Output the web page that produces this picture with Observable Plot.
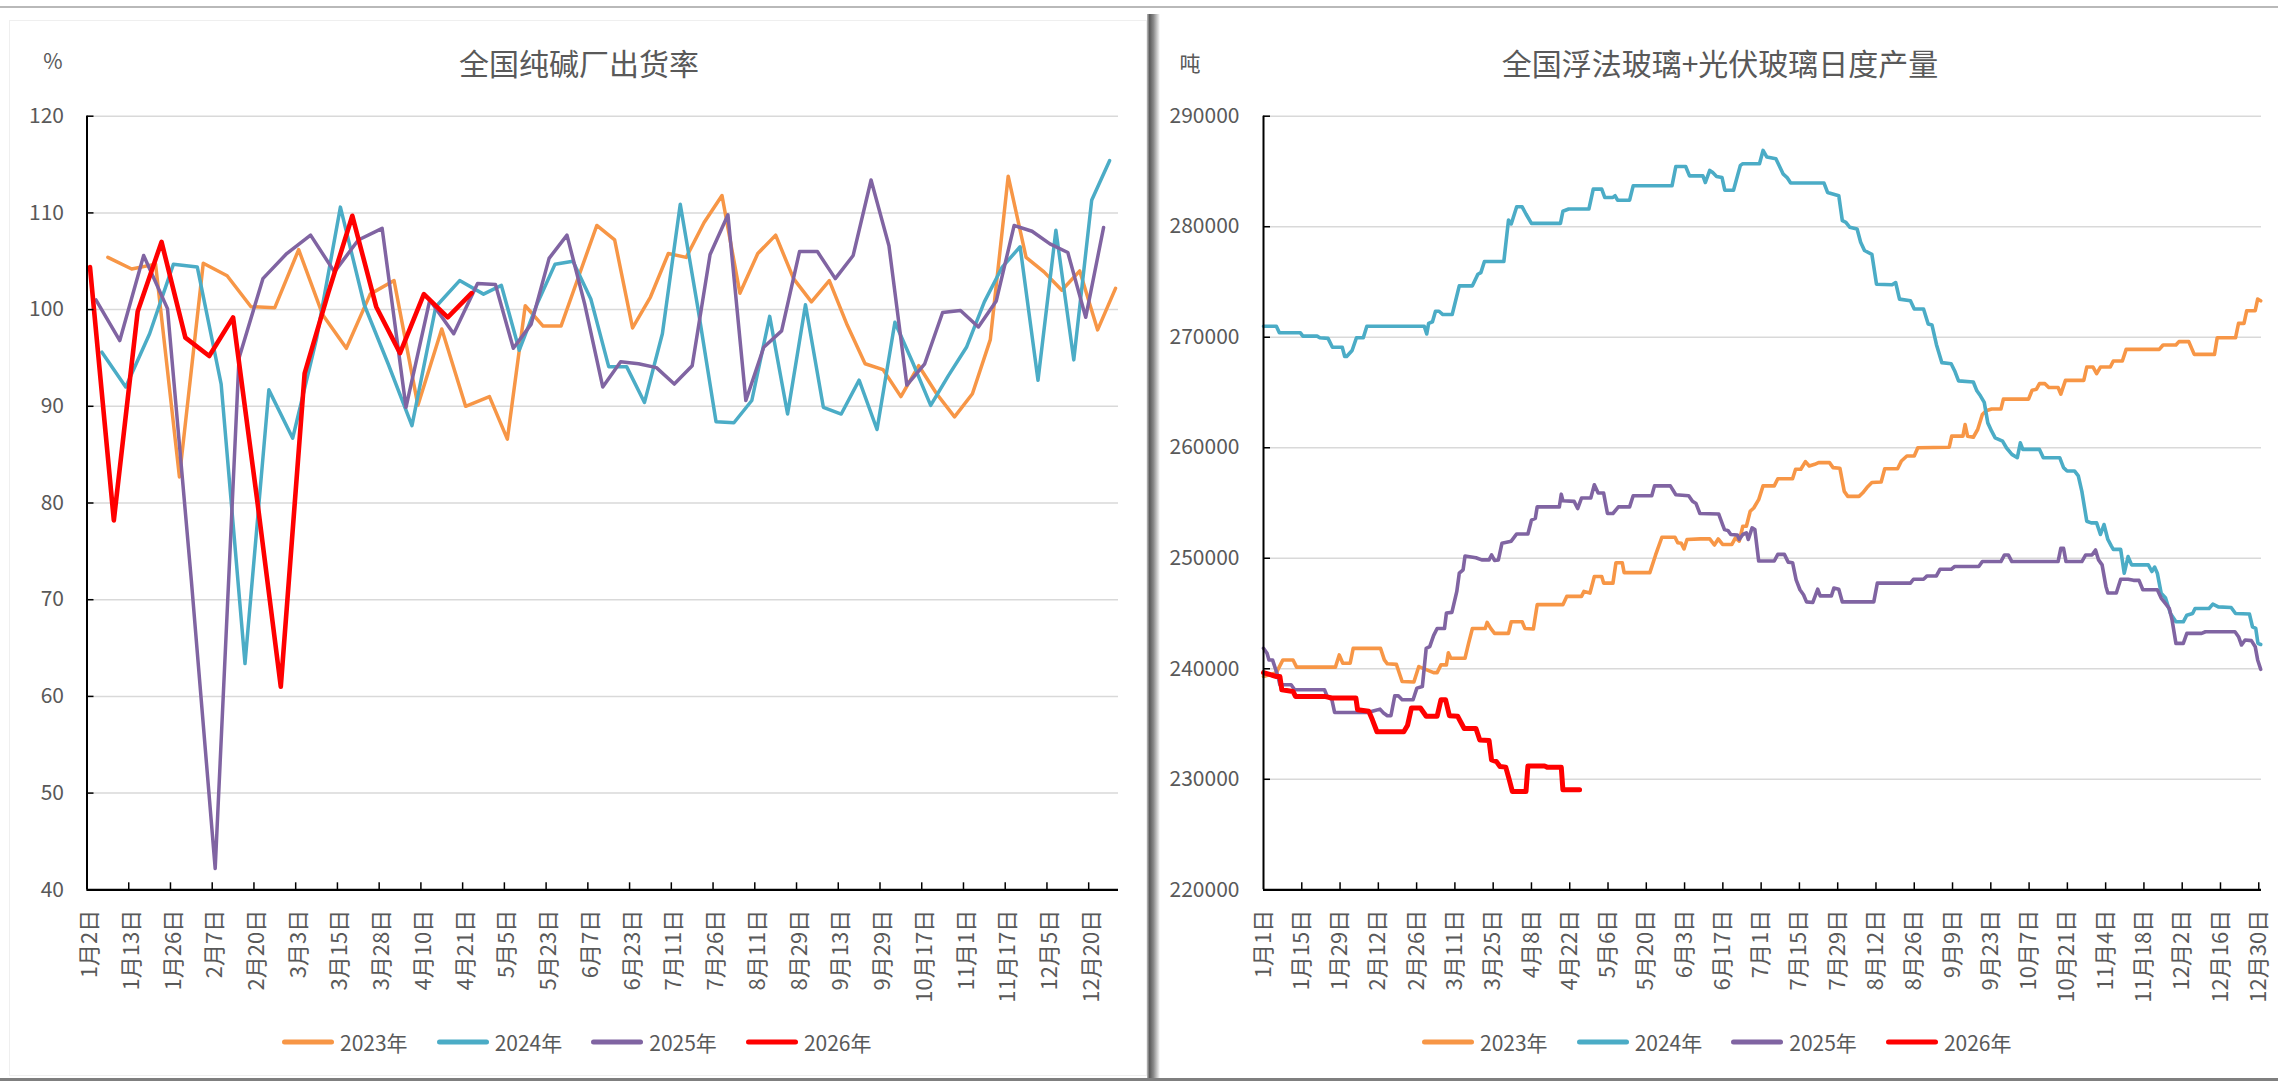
<!DOCTYPE html>
<html><head><meta charset="utf-8">
<script src="https://cdn.jsdelivr.net/npm/d3@7"></script>
<script src="https://cdn.jsdelivr.net/npm/@observablehq/plot@0.6"></script>
<style>
body{margin:0;background:#fff;}
#wrap{position:relative;width:2278px;height:1081px;overflow:hidden;background:#fff;font-family:"Noto Sans CJK SC","Noto Sans",sans-serif;color:#595959;}
.abs{position:absolute;}
.title{font-size:30px;white-space:nowrap;transform:translate(-50%,-50%);line-height:1;}
.unit{font-size:21px;transform:translate(-50%,-50%);line-height:1;}
.legend{display:flex;align-items:center;font-size:21px;white-space:nowrap;transform:translateY(-50%);line-height:1;}
.legend .item{display:flex;align-items:center;margin-right:29px;}
.legend .sw{width:52px;height:5px;border-radius:3px;margin-right:6px;}
svg{position:absolute;top:0;}
</style></head>
<body><div id="wrap"></div>
<script>
// ---------------- LEFT: 全国纯碱厂出货率 (weekly, %) ----------------
const rateLabels = ["1月2日","1月13日","1月26日","2月7日","2月20日","3月3日","3月15日","3月28日","4月10日","4月21日","5月5日","5月23日","6月7日","6月23日","7月11日","7月26日","8月11日","8月29日","9月13日","9月29日","10月17日","11月1日","11月17日","12月5日","12月20日"];
const rateYTicks = [40,50,60,70,80,90,100,110,120];
const rate2023 = [105.4,104.2,104.7,82.7,104.8,103.5,100.3,100.2,106.2,99.5,96.0,101.6,103.0,90.1,98.0,90.0,91.0,86.6,100.4,98.3,98.3,103.5,108.7,107.2,98.1,101.3,105.8,105.4,109.0,111.8,101.7,105.8,107.7,103.2,100.8,103.0,98.4,94.4,93.8,91.0,94.2,91.3,88.9,91.3,96.9,113.8,105.4,103.9,102.0,104.0,97.9,102.2];
const rate2024 = [95.6,92.0,97.5,104.7,104.4,92.3,63.4,91.7,86.7,97.0,110.6,100.5,94.4,88.0,100.3,103.0,101.6,102.5,95.8,100.6,104.7,105.0,101.1,94.1,94.1,90.4,97.5,110.9,100.0,88.4,88.3,90.6,99.3,89.2,100.5,89.9,89.2,92.7,87.6,98.7,94.5,90.1,93.2,96.1,100.8,104.4,106.5,92.7,108.2,94.8,111.3,115.4];
const rate2025 = [101.0,96.8,105.6,100.1,72.0,42.2,95.0,103.2,105.8,107.7,103.9,107.2,108.4,89.9,101.0,97.5,102.7,102.6,96.0,98.5,105.3,107.7,100.5,92.0,94.6,94.4,94.0,92.3,94.2,105.7,109.8,90.6,96.1,97.8,106.0,106.0,103.2,105.6,113.4,106.6,92.2,94.4,99.7,99.9,98.2,100.9,108.7,108.1,106.8,105.9,99.2,108.5];
const rate2026 = [104.4,78.2,99.8,107.0,97.1,95.2,99.2,80.5,61.0,93.4,101.8,109.7,100.3,95.5,101.6,99.2,101.7];
const rateFirstDay = {2023: 6, 2024: 5, 2025: 3, 2026: 2}; // first weekly report date in January
const years = [2023, 2024, 2025, 2026];
const colors = {2023: "#F79646", 2024: "#4BACC6", 2025: "#8064A2", 2026: "#FF0000"};
const rateSeries = {2023: rate2023, 2024: rate2024, 2025: rate2025, 2026: rate2026};

// category axis = union of report month-days of all years, in calendar order
const rateRows = [];
for (const y of years) rateSeries[y].forEach((v, w) => {
  const dt = new Date(y, 0, rateFirstDay[y] + 7 * w);
  rateRows.push({year: y, key: (dt.getMonth() + 1) * 100 + dt.getDate(), v});
});
const rateKeys = Array.from(new Set(rateRows.map(r => r.key))).sort((a, b) => a - b);
const rateKeyIndex = new Map(rateKeys.map((k, i) => [k, i]));
rateRows.forEach(r => r.i = rateKeyIndex.get(r.key));
const nCat = rateKeys.length;
const rateLabelIdx = rateLabels.map((_, k) => 7 * k);
const rateTickIdx = d3.range(1, rateLabels.length).map(k => 7 * k - 0.5);

// ---------------- RIGHT: 全国浮法玻璃+光伏玻璃日度产量 (daily, 吨) ----------------
const glassLabels = ["1月1日","1月15日","1月29日","2月12日","2月26日","3月11日","3月25日","4月8日","4月22日","5月6日","5月20日","6月3日","6月17日","7月1日","7月15日","7月29日","8月12日","8月26日","9月9日","9月23日","10月7日","10月21日","11月4日","11月18日","12月2日","12月16日","12月30日"];
const glassYTicks = [220000,230000,240000,250000,260000,270000,280000,290000];
// [day index from 1月1日, tons]
const glass2023 = [[0,239300],[4.7,239650],[7.1,240800],[10.8,240800],[12.1,240150],[26.3,240150],[27.7,241250],[29,240500],[31.7,240500],[32.8,241850],[42.8,241850],[44.2,240800],[45.3,240450],[48.6,240400],[50.7,238850],[55,238800],[56.8,240200],[62.2,239650],[63.5,239650],[64.9,240350],[66.9,240350],[67.6,241450],[68.5,240950],[73.7,240950],[75,242300],[76.4,243650],[81.1,243650],[81.8,244200],[83.1,243650],[84.5,243200],[89.6,243200],[90.6,244250],[94.6,244250],[95.6,243650],[98.7,243600],[100.1,245800],[109.5,245800],[110.9,246550],[116.3,246550],[117.2,247000],[119.4,246850],[121,248350],[123.7,248350],[124.4,247750],[127.8,247750],[128.9,249600],[131.2,249600],[131.9,248700],[141.3,248700],[143.4,250300],[145.7,251900],[150.5,251900],[151.5,251400],[152.8,251350],[153.8,250850],[154.9,251700],[159.8,251750],[163.2,251750],[164.9,251200],[166.3,251750],[167.9,251250],[171.3,251250],[172.6,251850],[174,251550],[175.3,252900],[176.6,252900],[178,254250],[179.3,254550],[181.1,255300],[182.7,256550],[186.8,256550],[188.1,257200],[193.5,257200],[194.6,258050],[196.5,258050],[198.2,258750],[199.6,258350],[201.6,258500],[203,258650],[207,258650],[208.3,258200],[210.8,258150],[212.4,256050],[213.7,255600],[217.8,255600],[219.1,255900],[220.7,256400],[222.5,256850],[225.9,256900],[227.2,258100],[231.9,258100],[233.3,258800],[235.3,259250],[238,259250],[239.3,260000],[250.8,260050],[251.7,261050],[255.8,261050],[256.6,262100],[257.5,261050],[259.6,260950],[261.2,261650],[262.9,263000],[264.3,263350],[266.3,263500],[269.7,263500],[270.6,264400],[279.8,264400],[281.1,265200],[282.7,265300],[283.8,265800],[285.8,265800],[287.2,265450],[290.6,265450],[291.6,264850],[293.3,266100],[300,266100],[301.1,267300],[303.4,267300],[304.7,266700],[306.1,267300],[309.7,267300],[310.8,267850],[314.1,267850],[315.5,268900],[327.6,268900],[329,269300],[333.7,269300],[334.8,269600],[338.4,269600],[340.4,268450],[347.8,268450],[348.8,269950],[355.5,269950],[356.6,271250],[358.6,271250],[359.6,272400],[362.7,272400],[363.6,273450],[364.7,273300]];
const glass2024 = [[0,271000],[4.7,271000],[5.8,270400],[13.5,270400],[14.4,270100],[19.6,270100],[20.6,269950],[23.6,269900],[25.2,269100],[28.8,269100],[29.7,268250],[30.4,268250],[32.4,268800],[34,269950],[36.5,269950],[37.8,271000],[58.8,271000],[59.7,270300],[60.4,271250],[61.8,271400],[62.9,272350],[64.2,272350],[65.6,272050],[69,272050],[71.6,274650],[76.4,274650],[78.4,275700],[79.5,275850],[80.8,276850],[87.9,276850],[89.6,280600],[90.6,280250],[92.6,281800],[94.6,281800],[96,281150],[98,280300],[108.6,280300],[109.5,281400],[111.6,281600],[119,281600],[120.6,283400],[123.7,283400],[124.8,282650],[127.8,282650],[128.6,282800],[129.5,282400],[133.9,282400],[135.2,283700],[149.4,283700],[150.8,285450],[154.4,285450],[155.8,284600],[160.7,284600],[161.6,284000],[163.2,285100],[164.3,284900],[165.7,284550],[167.7,284450],[168.7,283300],[171.9,283300],[174.4,285550],[175.3,285700],[181.4,285700],[182.7,286900],[184.1,286300],[187.4,286150],[190.1,284750],[191.5,284450],[192.8,283950],[205,283950],[206.3,283100],[210.4,282800],[211.7,280550],[213,280400],[214.4,279950],[217.1,279800],[218.4,278600],[219.8,277850],[222.5,277500],[224.2,274800],[229.9,274750],[231.2,274950],[232.6,273450],[236.6,273300],[238,272550],[241.4,272550],[243.1,271200],[244.5,271100],[246.1,269350],[248.1,267700],[251.5,267600],[252.8,266950],[254.2,266050],[259.6,265950],[260.9,265150],[262.2,264700],[263.6,264100],[264.9,262250],[266.3,261500],[267.6,260900],[270.3,260600],[271.7,260000],[273.7,259400],[275.7,259100],[276.8,260450],[277.7,259850],[283.8,259850],[285.2,259100],[291.2,259100],[292.6,258200],[293.9,257900],[296.6,257900],[298,257450],[299.3,256050],[301.1,253350],[302.7,253200],[304.7,253200],[306.1,252150],[307.4,253050],[308.8,251700],[310.1,251100],[310.8,250800],[313.5,250800],[314.8,248650],[316.2,250150],[317.5,249400],[323.6,249400],[324.9,248800],[325.9,249200],[326.9,248650],[328.3,246850],[329.9,246400],[331.7,245000],[333.7,244250],[336.4,244250],[337.7,244850],[339.8,245000],[340.7,245450],[345.8,245450],[347.2,245850],[349.2,245600],[353.9,245550],[355.5,245000],[360.6,244950],[361.7,243800],[362.9,243650],[363.7,242300],[364.7,242200]];
const glass2025 = [[0,241850],[1.3,241400],[2,240800],[3.3,240800],[5.3,239300],[6,238550],[10.1,238550],[11.4,238100],[22.3,238100],[23.3,237500],[25,237200],[26,236050],[38.5,236050],[39.8,236150],[42.6,236350],[43.9,236000],[45.3,235750],[46.6,235750],[48,237550],[49.3,237550],[50.7,237200],[54.7,237200],[56.1,238250],[58.1,238400],[59.5,241850],[60.8,242000],[62.2,243000],[63.5,243650],[66.2,243650],[66.9,245050],[68.9,245100],[70.7,247000],[71.6,248650],[73,248950],[73.7,250200],[77.7,250050],[79.8,249850],[82.5,249850],[83.4,250300],[84.5,249800],[85.9,249850],[87.2,251350],[90.6,251550],[92.6,252200],[96.7,252200],[98,253450],[99.4,253600],[100.1,254650],[108.2,254650],[108.9,255800],[109.5,255200],[113.6,255150],[114.9,254500],[116.3,255450],[119.7,255450],[121,256650],[122.4,255900],[124.4,255900],[125.8,254050],[127.8,254050],[129.8,254650],[133.9,254650],[135.2,255650],[142,255650],[143,256550],[148.8,256550],[150.8,255750],[155.5,255650],[156.9,255150],[158.2,254950],[159.6,254050],[166.5,254000],[167.9,253050],[168.6,252600],[169.9,252500],[170.9,252150],[173.3,252100],[174,251700],[175.3,252150],[176.6,252300],[177.3,251700],[178.7,252750],[179.7,252600],[181.1,249750],[186.8,249750],[188.1,250350],[190.5,250350],[191.9,249650],[193.5,249600],[194.8,248050],[196.2,247150],[197.5,246700],[198.6,246050],[200.9,246000],[202.7,247200],[203.6,246600],[207.7,246600],[208.6,247300],[210.4,247200],[211.7,246050],[223.2,246050],[224.5,247750],[236.6,247750],[237.7,248100],[241.4,248100],[242.7,248400],[246.1,248400],[247.4,249000],[251.5,249000],[252.8,249250],[261.6,249250],[262.9,249700],[269.7,249700],[271,250300],[272.4,250300],[273.7,249700],[290.6,249700],[291.6,250900],[292.6,250900],[293.5,249700],[299.3,249700],[300.7,250300],[303,250300],[304.3,250750],[305.4,249850],[306.7,249400],[308.1,247450],[308.8,246850],[311.9,246850],[313.5,248100],[316.2,248100],[318.2,248000],[320.2,248000],[321.6,247150],[326.9,247150],[328.3,246400],[329.9,245900],[331.3,245450],[332.3,244400],[333.7,242300],[336.4,242300],[337.7,243200],[343.1,243200],[344.5,243350],[355.3,243350],[356.6,242900],[357.7,242150],[359,242600],[361.3,242550],[362.7,242000],[363.6,240800],[364.7,239950]];
const glass2026 = [[0,239650],[4.7,239300],[6,239300],[6.7,238100],[10.8,237950],[11.7,237500],[22.3,237500],[25,237350],[33.8,237350],[34.4,236300],[38.5,236150],[39.8,235400],[41.5,234300],[51.3,234300],[52.7,234900],[54.1,236450],[57.4,236450],[59.5,235700],[63.5,235700],[64.9,237200],[66.6,237200],[68,235750],[71,235700],[73.4,234600],[77.7,234600],[79.1,233550],[82.5,233500],[83.4,231750],[85.2,231600],[86.5,231150],[88.6,231100],[89.9,229950],[91,228900],[96,228900],[96.7,231200],[102.8,231200],[103.7,231100],[108.9,231100],[109.5,229050],[115.6,229050]];
const glassSeries = {2023: glass2023, 2024: glass2024, 2025: glass2025, 2026: glass2026};
const glassLabelIdx = glassLabels.map((_, k) => 14 * k);
const glassTickIdx = d3.range(1, glassLabels.length).map(k => 14 * k);

// ---------------- layout ----------------
const H = 1000, mTop = 115.7, mBottom = H - 889.3;
const font = '"Noto Sans CJK SC","Noto Sans",sans-serif';
const gray = "#595959";

function lineMarks(seriesRows, xKey, yKey, widths) {
  return years.map(y => Plot.line(seriesRows.filter(r => r.year === y), {
    x: xKey, y: yKey, stroke: colors[y], strokeWidth: widths[y],
    strokeLinejoin: "round", strokeLinecap: "round"
  }));
}

// Left plot
const L = {w: 1150, ml: 86.5, mr: 1150 - 1118};
const Lpw = L.w - L.ml - L.mr, Lph = H - mTop - mBottom;
const leftPlot = Plot.plot({
  width: L.w, height: H, marginLeft: L.ml, marginRight: L.mr, marginTop: mTop, marginBottom: mBottom,
  style: {fontFamily: font, background: "transparent", overflow: "visible"},
  x: {type: "linear", domain: [-0.5, nCat - 0.5], axis: null, label: null},
  y: {domain: [40, 120], axis: null, label: null},
  marks: [
    Plot.ruleY(rateYTicks.slice(1), {stroke: "#d9d9d9", strokeWidth: 1.5}),
    Plot.axisY({ticks: rateYTicks, tickSize: 0, tickPadding: 23, fontSize: 21, color: gray, label: null}),
    Plot.axisX({ticks: rateLabelIdx, tickSize: 0, tickPadding: 20, tickRotate: -90, fontSize: 22, color: gray, label: null,
      tickFormat: d => rateLabels[Math.round(d / 7)]}),
    ...lineMarks(rateRows, "i", "v", {2023: 3.5, 2024: 3.5, 2025: 3.5, 2026: 4.6}),
    Plot.tickX(rateTickIdx, {x: d => d, insetTop: Lph - 7, stroke: "#000", strokeWidth: 1.5}),
    Plot.tickY(rateYTicks, {y: d => d, insetRight: Lpw - 7, stroke: "#000", strokeWidth: 1.5}),
    Plot.ruleX([-0.5], {stroke: "#000", strokeWidth: 2}),
    Plot.ruleY([40], {stroke: "#000", strokeWidth: 2.2})
  ]
});

// Right plot
const glassRows = [];
for (const y of years) glassSeries[y].forEach(([d, v]) => glassRows.push({year: y, d, v}));
const R = {w: 1128, ml: 113, mr: 17};
const Rpw = R.w - R.ml - R.mr;
const rightPlot = Plot.plot({
  width: R.w, height: H, marginLeft: R.ml, marginRight: R.mr, marginTop: mTop, marginBottom: mBottom,
  style: {fontFamily: font, background: "transparent", overflow: "visible"},
  x: {type: "linear", domain: [0, 365], axis: null, label: null},
  y: {domain: [220000, 290000], axis: null, label: null},
  marks: [
    Plot.ruleY(glassYTicks.slice(1), {stroke: "#d9d9d9", strokeWidth: 1.5}),
    Plot.axisY({ticks: glassYTicks, tickSize: 0, tickPadding: 24, fontSize: 21, color: gray, label: null, tickFormat: d => String(d)}),
    Plot.axisX({ticks: glassLabelIdx, tickSize: 0, tickPadding: 20, tickRotate: -90, fontSize: 22, color: gray, label: null,
      tickFormat: d => glassLabels[Math.round(d / 14)]}),
    ...lineMarks(glassRows, "d", "v", {2023: 3.6, 2024: 3.6, 2025: 3.6, 2026: 5}),
    Plot.tickX(glassTickIdx, {x: d => d, insetTop: Lph - 7, stroke: "#000", strokeWidth: 1.5}),
    Plot.tickY(glassYTicks, {y: d => d, insetRight: Rpw - 7, stroke: "#000", strokeWidth: 1.5}),
    Plot.ruleX([0], {stroke: "#000", strokeWidth: 2}),
    Plot.ruleY([220000], {stroke: "#000", strokeWidth: 2.2})
  ]
});

const wrap = document.getElementById("wrap");
function el(tag, cls, css, text) {
  const e = document.createElement(tag);
  if (cls) e.className = cls;
  Object.assign(e.style, css);
  if (text != null) e.textContent = text;
  wrap.appendChild(e);
  return e;
}
// frame decorations
el("div", "abs", {left: "0px", top: "6px", width: "2278px", height: "2px", background: "#b9b9b9"});
el("div", "abs", {left: "9px", top: "20px", width: "1138px", height: "1056px", border: "1px solid #efefef", boxSizing: "border-box"});
el("div", "abs", {left: "1147px", top: "14px", width: "13px", height: "1067px", background: "linear-gradient(to right,#bdbdbd,#5a5a5a 20%,#8a8a8a 50%,#e6e6e6 90%,rgba(255,255,255,0))"});
el("div", "abs", {left: "0px", top: "1078px", width: "2278px", height: "3px", background: "#7f7f7f"});

leftPlot.style.left = "0px";
rightPlot.style.left = "1150px";
wrap.appendChild(leftPlot);
wrap.appendChild(rightPlot);

el("div", "abs unit", {left: "53px", top: "60px"}, "%");
el("div", "abs title", {left: "579px", top: "62px"}, "全国纯碱厂出货率");
el("div", "abs unit", {left: "1190px", top: "62px"}, "吨");
el("div", "abs title", {left: "1720px", top: "62px"}, "全国浮法玻璃+光伏玻璃日度产量");

function legend(x) {
  const lg = el("div", "abs legend", {left: x + "px", top: "1042px"});
  for (const y of years) {
    const it = document.createElement("div"); it.className = "item";
    const sw = document.createElement("div"); sw.className = "sw"; sw.style.background = colors[y];
    const tx = document.createElement("span"); tx.textContent = y + "年";
    it.appendChild(sw); it.appendChild(tx); lg.appendChild(it);
  }
}
legend(282);
legend(1422);
</script></body></html>
